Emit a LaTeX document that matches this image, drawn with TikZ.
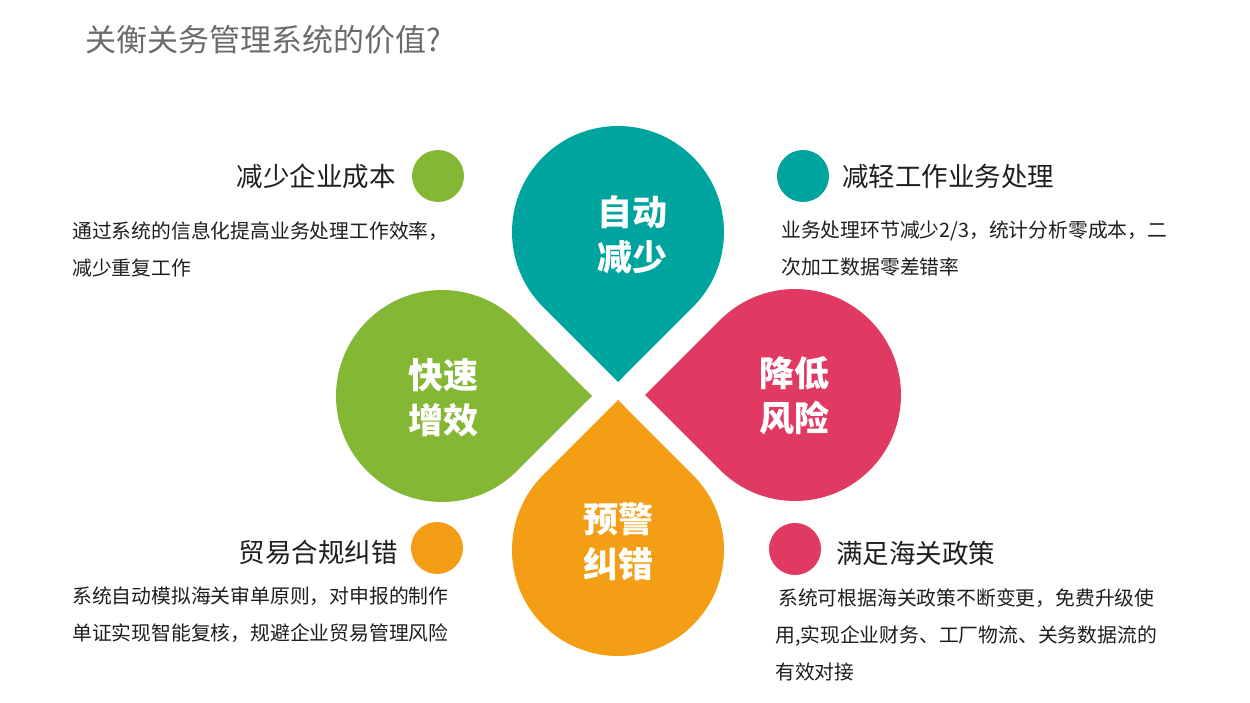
\documentclass[tikz,border=0pt]{standalone}
\usepackage{fontspec}
\setmainfont{Noto Sans CJK SC}
\definecolor{tealc}{HTML}{00A49E}
\definecolor{greenc}{HTML}{84B733}
\definecolor{pinkc}{HTML}{E03A63}
\definecolor{orangec}{HTML}{F39E14}
\definecolor{titlegray}{HTML}{6B6B6B}
\definecolor{textc}{HTML}{1E1E1E}
% teardrop: centre, direction of the tip, colour
\newcommand{\petal}[3]{\fill[#3,shift={(#1)}] (#2:150) -- (#2+45:106)
  arc[start angle=#2+45,delta angle=270,radius=106] -- cycle;}
\begin{document}
\begin{tikzpicture}[x=1pt,y=1pt,
    petaltext/.style={text=white,font=\fontsize{35}{45}\selectfont\bfseries,align=center,inner sep=0pt},
    spot/.style={circle,inner sep=0pt,minimum size=52pt},
    head/.style={text=textc,font=\fontsize{26.5}{30}\selectfont,inner sep=0pt},
    body/.style={text=textc,font=\fontsize{19.8}{37}\selectfont,align=left,inner sep=0pt,anchor=west}]
    \useasboundingbox (0,0) rectangle (1250,702);
    \node[anchor=west,text=titlegray,font=\fontsize{31}{36}\selectfont,inner sep=0pt] (title) at (85,662) {关衡关务管理系统的价值?};
    % petals
    \petal{618,470}{-90}{tealc}
    \petal{442,306}{0}{greenc}
    \petal{795,307}{180}{pinkc}
    \petal{618,152}{90}{orangec}
    \node[petaltext] (auto) at (632,467) {自动\\减少};
    \node[petaltext] (fast) at (443,304) {快速\\增效};
    \node[petaltext] (risk) at (794,306) {降低\\风险};
    \node[petaltext] (warn) at (618,160) {预警\\纠错};
    % dots and headings
    \node[spot,fill=greenc] (dotA) at (438,526) {};
    \node[spot,fill=tealc] (dotB) at (803,526) {};
    \node[spot,fill=orangec] (dotC) at (437,154) {};
    \node[spot,fill=pinkc] (dotD) at (795,153) {};
    \node[head,anchor=east] (headA) at (396,526) {减少企业成本};
    \node[head,anchor=west] (headB) at (842,526) {减轻工作业务处理};
    \node[head,anchor=east] (headC) at (398,150) {贸易合规纠错};
    \node[head,anchor=west] (headD) at (836,149) {满足海关政策};
    % descriptions
    \node[body] (textA) at (72,453) {通过系统的信息化提高业务处理工作效率，\\减少重复工作};
    \node[body] (textB) at (781,453) {业务处理环节减少2/3，统计分析零成本，二\\次加工数据零差错率};
    \node[body] (textC) at (72,87) {系统自动模拟海关审单原则，对申报的制作\\单证实现智能复核，规避企业贸易管理风险};
    \node[body] (textD) at (775,67) {\hspace{3pt}系统可根据海关政策不断变更，免费升级使\\用,实现企业财务、工厂物流、关务数据流的\\有效对接};
\end{tikzpicture}
\end{document}
